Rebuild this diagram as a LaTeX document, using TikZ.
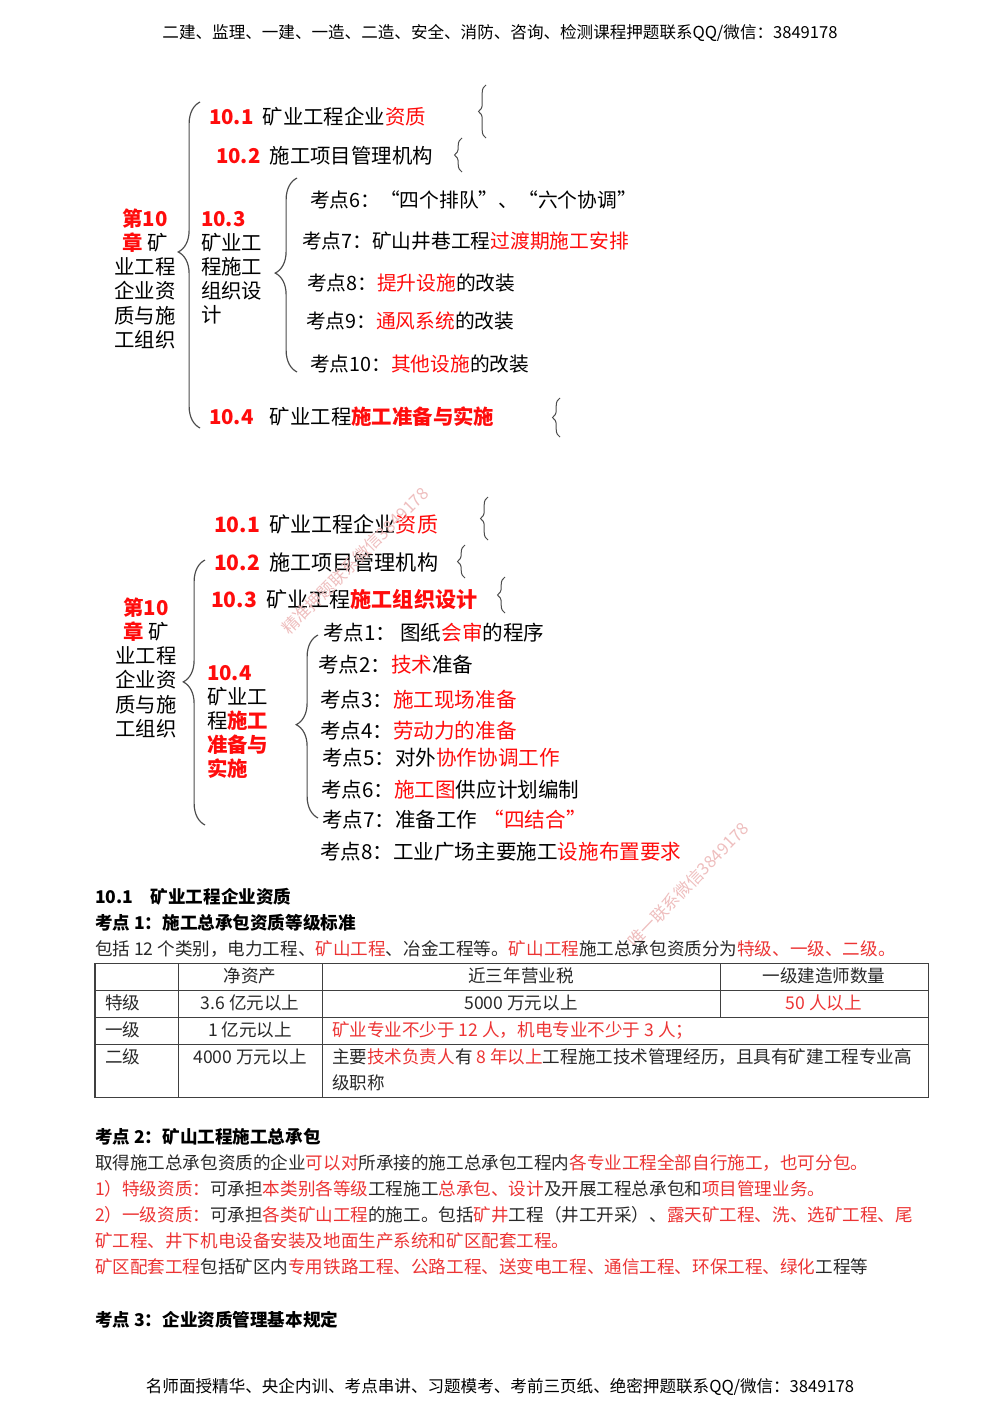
\documentclass[tikz,border=0pt]{standalone}
\usepackage{fontspec}
\setmainfont{Noto Sans CJK SC}
\usepackage{xcolor}
\usepackage{tikz}
\usetikzlibrary{decorations.pathreplacing,positioning}
\definecolor{mapred}{RGB}{255,12,12}
\definecolor{txtred}{RGB}{236,52,52}
\definecolor{txtgray}{RGB}{40,40,40}
\definecolor{wmark}{RGB}{238,190,190}
\newcommand{\hl}[1]{\textcolor{mapred}{#1}}
\newcommand{\hb}[1]{\textcolor{mapred}{\bfseries #1}}
\newcommand{\tr}[1]{\textcolor{txtred}{#1}}

\begin{document}
\begin{tikzpicture}[x=0.21mm, y=-0.21mm,
  every node/.style={inner sep=0pt, outer sep=0pt},
  mapt/.style={anchor=west, font=\fontsize{12.2}{14.4}\selectfont},
  mapt2/.style={anchor=west, font=\fontsize{12.6}{14.6}\selectfont},
  kd/.style={anchor=west, font=\fontsize{11.8}{14}\selectfont},
  kd2/.style={anchor=west, font=\fontsize{12.3}{14}\selectfont},
  chblk/.style={anchor=north, align=center, font=\fontsize{12.2}{14.4}\selectfont},
  secblk/.style={anchor=north west, align=left, font=\fontsize{12.2}{14.4}\selectfont},
  body/.style={anchor=west, text=txtgray, font=\fontsize{10.5}{13}\selectfont},
  hd/.style={anchor=west, text=black, font=\bfseries\fontsize{10.5}{13}\selectfont},
  cell/.style={text=txtgray, font=\fontsize{10.5}{13}\selectfont},
  pg/.style={font=\fontsize{9.9}{12}\selectfont},
  wm/.style={text=wmark, font=\fontsize{10}{12}\selectfont},
  bigbr/.style={decorate, decoration={brace, amplitude=13pt, aspect=0.54}, draw=black!70, line width=0.7pt},
  inbr/.style={decorate, decoration={brace, amplitude=13pt, aspect=0.51}, draw=black!70, line width=0.7pt},
  smbr/.style={decorate, decoration={brace, amplitude=4.5pt}, draw=black!70, line width=0.6pt},
  tbl/.style={draw=black!75, line width=0.6pt}]
  \useasboundingbox (0,0) rectangle (1000,1415);

  % page header and footer
  \node[pg] (head) at (500,33) {二建、监理、一建、一造、二造、安全、消防、咨询、检测课程押题联系QQ/微信：3849178};
  \node[pg] (foot) at (500,1387) {名师面授精华、央企内训、考点串讲、习题模考、考前三页纸、绝密押题联系QQ/微信：3849178};

  % first map
  \node[chblk] (ch1) at (145,209) {\hb{第10}\\\hb{章} 矿\\业工程\\企业资\\质与施\\工组织};
  \draw[bigbr] (200,428) -- (200,102);
  \node[mapt] (s1) at (209,117) {\hb{10.1}\hspace{.45em}矿业工程企业\hl{资质}};
  \node[mapt] (s2) at (216,156) {\hb{10.2}\hspace{.45em}施工项目管理机构};
  \node[secblk] (s3) at (201,211) {\hb{10.3}\\矿业工\\程施工\\组织设\\计};
  \node[mapt] (s4) at (209,417) {\hb{10.4}\hspace{.8em}矿业工程\hb{施工准备与实施}};
  \draw[smbr] (486,138) -- (486,85);
  \draw[smbr] (462,172) -- (462,138);
  \draw[smbr] (560,437) -- (560,398);
  \draw[inbr] (297,372) -- (297,178);
  \node[kd] (k6) at (310,200) {考点6：“四个排队”、“六个协调”};
  \node[kd] (k7) at (302,241) {考点7：矿山井巷工程\hl{过渡期施工安排}};
  \node[kd] (k8) at (307,283) {考点8：\hl{提升设施}的改装};
  \node[kd] (k9) at (306,321) {考点9：\hl{通风系统}的改装};
  \node[kd] (k10) at (310,364) {考点10：\hl{其他设施}的改装};

  % second map
  \node[chblk] (ch2) at (146,598) {\hb{第10}\\\hb{章} 矿\\业工程\\企业资\\质与施\\工组织};
  \draw[bigbr] (205,825) -- (205,560);
  \node[mapt2] (t1) at (214,524) {\hb{10.1}\hspace{.45em}矿业工程企业\hl{资质}};
  \node[mapt2] (t2) at (214,562) {\hb{10.2}\hspace{.45em}施工项目管理机构};
  \node[mapt2] (t3) at (211,599) {\hb{10.3}\hspace{.45em}矿业工程\hb{施工组织设计}};
  \node[secblk] (t4) at (207,665) {\hb{10.4}\\矿业工\\程\hb{施工}\\\hb{准备与}\\\hb{实施}};
  \draw[smbr] (488,540) -- (488,497);
  \draw[smbr] (465,578) -- (465,545);
  \draw[smbr] (505,613) -- (505,577);
  \draw[inbr] (318,818) -- (318,635);
  \node[kd2] (p1) at (323,633) {考点1：\hspace{.2em}图纸\hl{会审}的程序};
  \node[kd2] (p2) at (318,665) {考点2：\hl{技术}准备};
  \node[kd2] (p3) at (320,700) {考点3：\hl{施工现场准备}};
  \node[kd2] (p4) at (320,731) {考点4：\hl{劳动力的准备}};
  \node[kd2] (p5) at (322,758) {考点5：对外\hl{协作协调工作}};
  \node[kd2] (p6) at (321,790) {考点6：\hl{施工图}供应计划编制};
  \node[kd2] (p7) at (322,820) {考点7：准备工作\hspace{.3em}\hl{“四结合”}};
  \node[kd2] (p8) at (320,852) {考点8：工业广场主要施工\hl{设施布置要求}};

  % watermarks
  \node[wm, rotate=45] (wm1) at (355,561) {精准押题联系微信3849178};
  \node[wm, rotate=46] (wm2) at (688,885) {唯一联系微信3849178};

  % text part
  \node[hd] (b0) at (95,897) {10.1\hspace{1em}矿业工程企业资质};
  \node[hd] (b1) at (95,923) {考点 1：施工总承包资质等级标准};
  \node[body] (b2) at (95,949) {包括 12 个类别，电力工程、\tr{矿山工程}、冶金工程等。\tr{矿山工程}施工总承包资质分为\tr{特级、一级、二级。}};

  % table
  \draw[tbl] (95,963) rectangle (928,1097);
  \draw[tbl] (95,990) -- (928,990);
  \draw[tbl] (95,1017) -- (928,1017);
  \draw[tbl] (95,1044) -- (928,1044);
  \draw[tbl] (178,963) -- (178,1097);
  \draw[tbl] (322,963) -- (322,1097);
  \draw[tbl] (720,963) -- (720,1017);
  \node[cell] (h1) at (250,976) {净资产};
  \node[cell] (h2) at (521,976) {近三年营业税};
  \node[cell] (h3) at (824,976) {一级建造师数量};
  \node[cell, anchor=west] (r1) at (105,1003) {特级};
  \node[cell] (r1a) at (250,1003) {3.6 亿元以上};
  \node[cell] (r1b) at (521,1003) {5000 万元以上};
  \node[cell] (r1c) at (824,1003) {\tr{50 人以上}};
  \node[cell, anchor=west] (r2) at (105,1030) {一级};
  \node[cell] (r2a) at (250,1030) {1 亿元以上};
  \node[cell, anchor=west] (r2b) at (332,1030) {\tr{矿业专业不少于 12 人，机电专业不少于 3 人；}};
  \node[cell, anchor=west] (r3) at (105,1057) {二级};
  \node[cell] (r3a) at (250,1057) {4000 万元以上};
  \node[cell, anchor=west] (r3b) at (332,1057) {主要\tr{技术负责人}有 \tr{8 年以上}工程施工技术管理经历，且具有矿建工程专业高};
  \node[cell, anchor=west] (r3c) at (332,1083) {级职称};

  \node[hd] (c0) at (95,1137) {考点 2：矿山工程施工总承包};
  \node[body] (c1) at (95,1163) {取得施工总承包资质的企业\tr{可以对}所承接的施工总承包工程内\tr{各专业工程全部自行施工，也可分包。}};
  \node[body] (c2) at (95,1189) {\tr{1）特级资质：}可承担\tr{本类别各等级}工程施工\tr{总承包、设计}及开展工程总承包和\tr{项目管理业务。}};
  \node[body] (c3) at (95,1215) {\tr{2）一级资质：}可承担\tr{各类矿山工程}的施工。包括\tr{矿井}工程（井工开采）、\tr{露天矿工程、洗、选矿工程、尾}};
  \node[body] (c4) at (95,1241) {\tr{矿工程、井下机电设备安装及地面生产系统和矿区配套工程。}};
  \node[body] (c5) at (95,1267) {\tr{矿区配套工程}包括矿区内\tr{专用铁路工程、公路工程、送变电工程、通信工程、环保工程、绿化}工程等};
  \node[hd] (c6) at (95,1320) {考点 3：企业资质管理基本规定};
\end{tikzpicture}
\end{document}
